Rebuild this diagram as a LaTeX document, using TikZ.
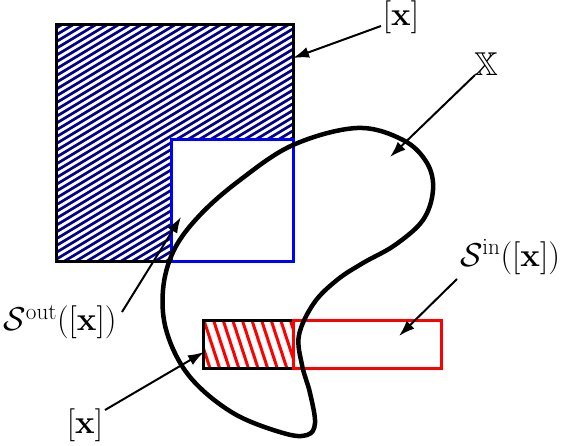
\RequirePackage{fix-cm}
\documentclass[tikz,border=0pt]{standalone}
\usepackage{amsmath,amssymb}
\usetikzlibrary{arrows.meta}
\definecolor{navyhatch}{RGB}{0,0,140}
\begin{document}
\begin{tikzpicture}[x=1pt,y=-1pt,
  lbl/.style={inner sep=0pt, font=\fontsize{33}{40}\selectfont},
  ptr/.style={line width=2pt, -{Latex[length=16pt,width=11pt]}},
  boxline/.style={line width=3pt},
  hatchblue/.style={navyhatch, line width=2.7pt},
  hatchred/.style={red, line width=3pt}]
\useasboundingbox (0,0) rectangle (564,446);
% blue hatched L-shape
\begin{scope}
  \clip (56,25) -- (293,25) -- (293,140) -- (171,140) -- (171,261) -- (56,261) -- cycle;
  \foreach \k in {0,...,62} {
    \draw[hatchblue] (50,{25+6.8*\k}) -- (300,{25+6.8*\k-250*0.6});
  }
\end{scope}
\draw[boxline] (56,25) rectangle (293,261);
\draw[boxline, blue] (171,140) rectangle (293,261);
% red hatched rectangle
\begin{scope}
  \clip (203,320) rectangle (293,368);
  \foreach \k in {0,...,12} {
    \draw[hatchred] ({184+9.6*\k},318) -- ({184+9.6*\k+17},370);
  }
\end{scope}
\draw[boxline] (203,320) rectangle (293,368);
\draw[boxline, red] (293,320) rectangle (441,368);
% the set X
\draw[line width=4.5pt, line join=round] plot[smooth cycle, tension=0.6] coordinates {
  (293,145) (357,128) (403,140) (427,163) (433,190) (423,220) (395,245) (363,263)
  (337,280) (314,303) (299,335) (302,365) (310,393) (315,423) (307,435) (283,433)
  (233,413) (190,377) (167,333) (163,290) (174,250) (200,215) (240,180) };
% labels
\node[lbl] (xtop) at (401,17) {$[\mathbf{x}]$};
\node[lbl] (X) at (486,64) {$\mathbb{X}$};
\node[lbl] (Sin) at (510,257) {$\mathcal{S}^{\mathrm{in}}([\mathbf{x}])$};
\node[lbl] (Sout) at (60,322) {$\mathcal{S}^{\mathrm{out}}([\mathbf{x}])$};
\node[lbl] (xbot) at (85,425) {$[\mathbf{x}]$};
% arrow ends
\coordinate (a1s) at (381,26);  \coordinate (a1e) at (293,58);
\coordinate (a2s) at (475,75);  \coordinate (a2e) at (390,157);
\coordinate (a3s) at (457,279); \coordinate (a3e) at (399,336);
\coordinate (a4s) at (122,312); \coordinate (a4e) at (181,217);
\coordinate (a5s) at (105,410); \coordinate (a5e) at (204,352);
\draw[ptr] (a1s) -- (a1e);
\draw[ptr] (a2s) -- (a2e);
\draw[ptr] (a3s) -- (a3e);
\draw[ptr] (a4s) -- (a4e);
\draw[ptr] (a5s) -- (a5e);
\end{tikzpicture}
\end{document}
